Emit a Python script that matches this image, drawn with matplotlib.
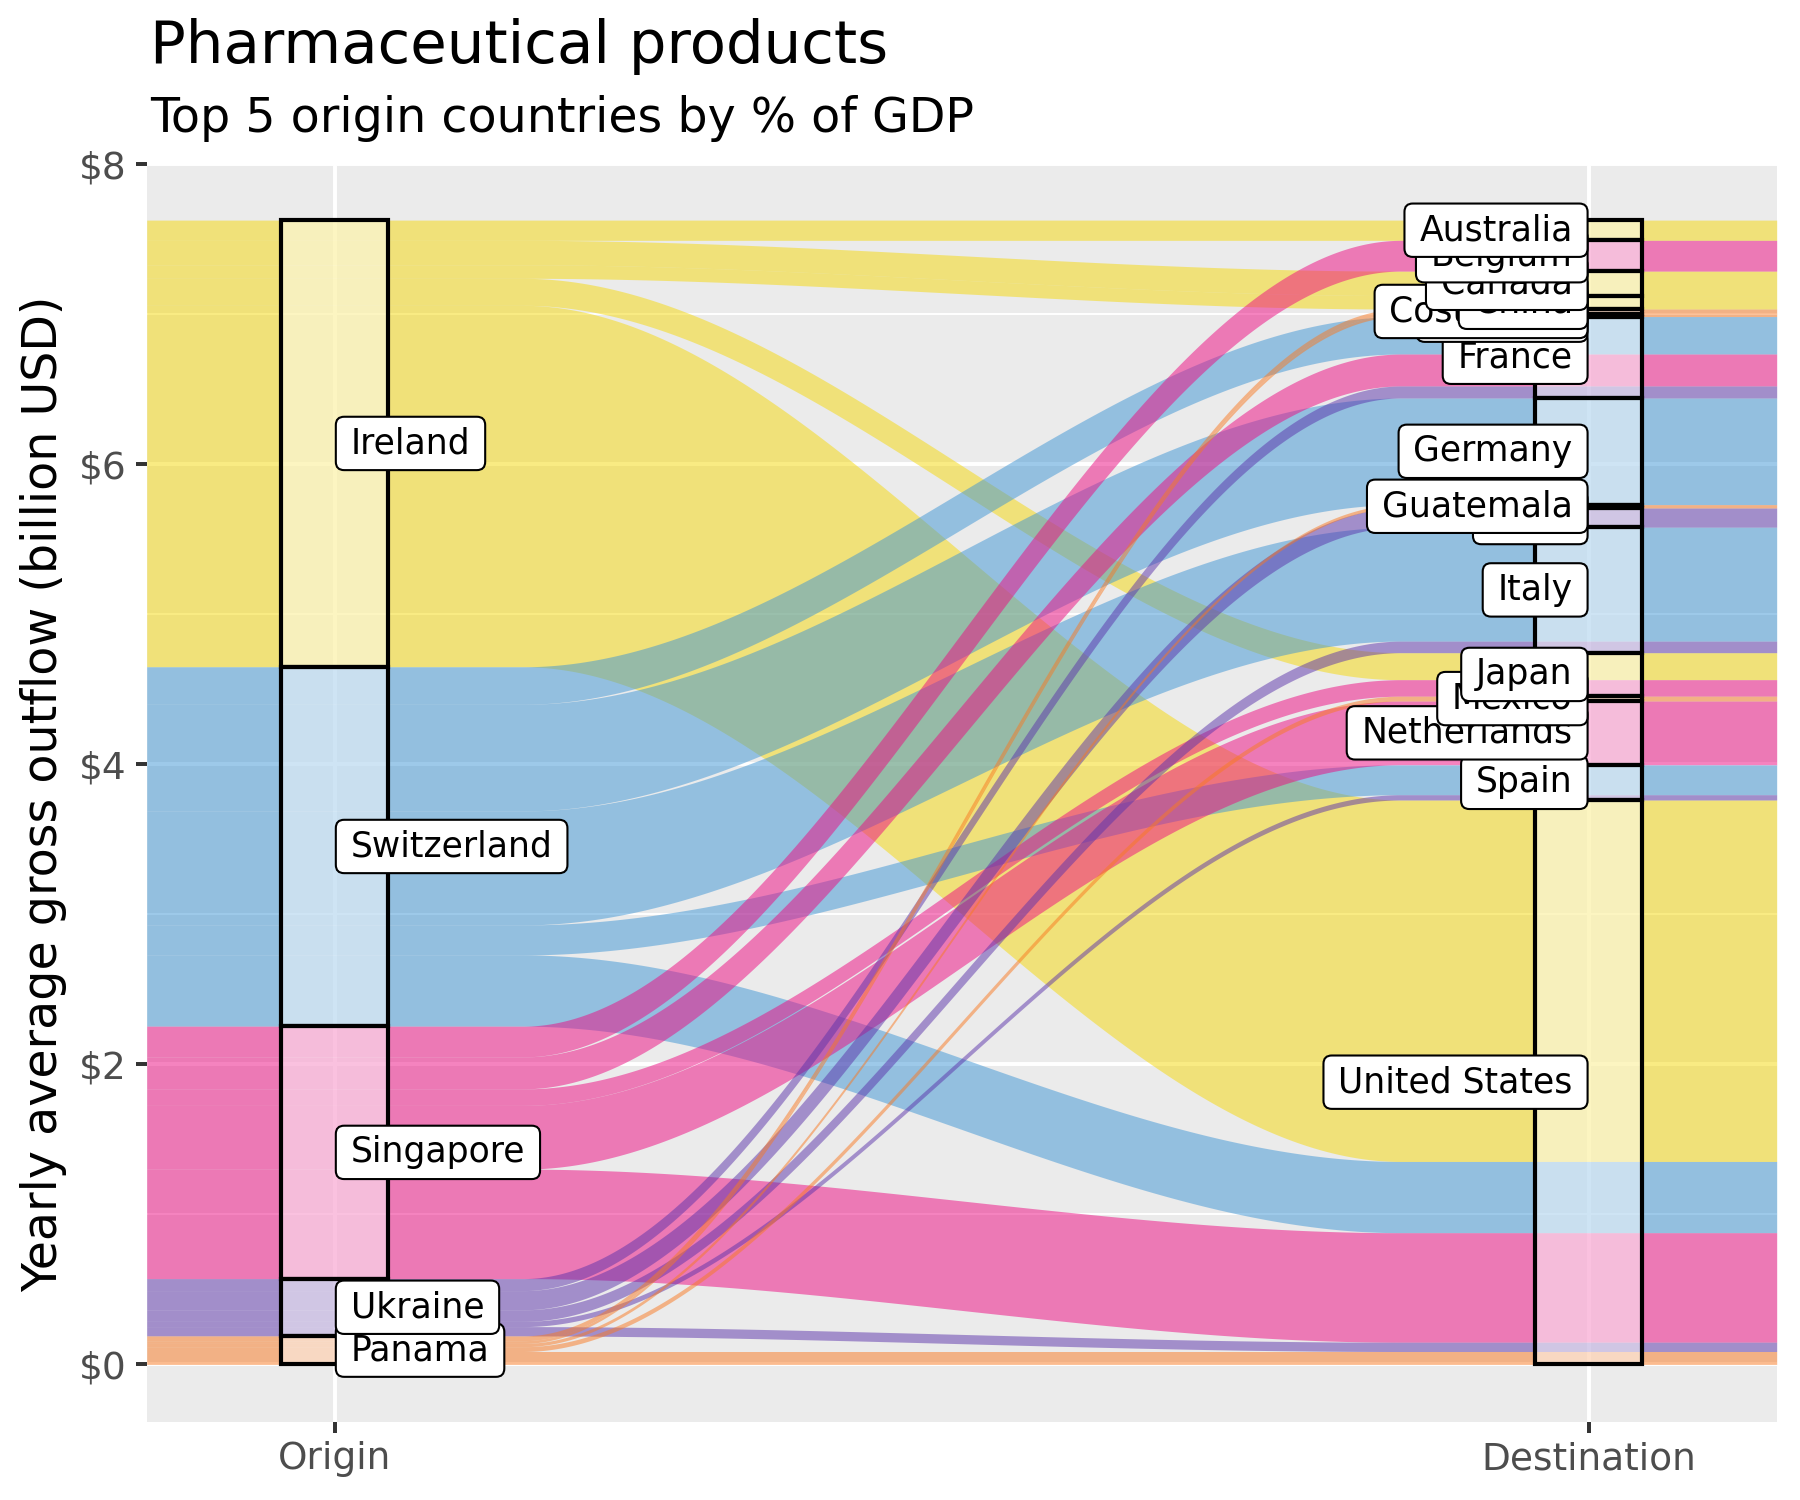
import numpy as np
import matplotlib
matplotlib.use("Agg")
import matplotlib.pyplot as plt
from matplotlib.patches import Rectangle, BoxStyle

plt.rcParams['font.family'] = ['DejaVu Sans']

# ---------------- data ----------------
origins = ["Ireland", "Switzerland", "Singapore", "Ukraine", "Panama"]
destinations = ["Australia", "Belgium", "Canada", "China", "Costa Rica", "Ecuador",
                "France", "Germany", "Guatemala", "India", "Italy", "Japan",
                "Mexico", "Netherlands", "Spain", "United States"]

flow_origin = ["Ireland"] * 5 + ["Switzerland"] * 5 + ["Singapore"] * 5 + ["Ukraine"] * 5 + ["Panama"] * 5
flow_dest = ["Australia", "Canada", "China", "Japan", "United States",
             "France", "Germany", "Italy", "Spain", "United States",
             "Belgium", "France", "Japan", "Netherlands", "United States",
             "France", "India", "Italy", "Spain", "United States",
             "Costa Rica", "Ecuador", "Guatemala", "Mexico", "United States"]
flow_value = [0.135, 0.163, 0.090, 0.180, 2.410,
              0.250, 0.711, 0.760, 0.200, 0.475,
              0.205, 0.213, 0.110, 0.425, 0.730,
              0.080, 0.128, 0.077, 0.035, 0.062,
              0.032, 0.018, 0.022, 0.032, 0.086]

origin_colors = ["#F5D909", "#3D95D5", "#ED0981", "#5B33AB", "#F97921"]

title = "Pharmaceutical products"
subtitle = "Top 5 origin countries by % of GDP"
y_label = "Yearly average gross outflow (billion USD)"
x_labels = ["Origin", "Destination"]
y_ticks = [0, 2, 4, 6, 8]
y_tick_labels = ["$0", "$2", "$4", "$6", "$8"]

# ---------------- layout ----------------
fig = plt.figure(figsize=(12, 10), dpi=150)
ax = fig.add_axes([146.7 / 1800, 1 - 1421.7 / 1500, 1630 / 1800, 1258 / 1500])
ax.set_facecolor("#EBEBEB")
for s in ax.spines.values():
    s.set_visible(False)

flows = list(zip(flow_origin, flow_dest, flow_value))
o_tot = {o: sum(v for oo, d, v in flows if oo == o) for o in origins}
d_tot = {d: sum(v for o, dd, v in flows if dd == d) for d in destinations}


def stack(order, tot):
    tops = {}
    y = sum(tot.values())
    for k in order:
        tops[k] = y
        y -= tot[k]
    return tops


o_top = stack(origins, o_tot)
d_top = stack(destinations, d_tot)

left = {}
cur = dict(o_top)
for o in origins:
    for d in destinations:
        for oo, dd, v in flows:
            if oo == o and dd == d:
                left[(o, d)] = (cur[o] - v, cur[o])
                cur[o] -= v
right = {}
cur = dict(d_top)
for d in destinations:
    for o in origins:
        for oo, dd, v in flows:
            if oo == o and dd == d:
                right[(o, d)] = (cur[d] - v, cur[d])
                cur[d] -= v

x = np.linspace(0.85, 2.15, 800)
t = np.clip((x - 1.15) / 0.70, 0, 1)
s = t * t * (3 - 2 * t)

for oi, o in enumerate(origins):
    for oo, d, v in flows:
        if oo != o:
            continue
        l0, l1 = left[(o, d)]
        r0, r1 = right[(o, d)]
        lo = l0 + (r0 - l0) * s
        hi = l1 + (r1 - l1) * s
        ax.fill_between(x, lo, hi, color=origin_colors[oi], alpha=0.5, lw=0, zorder=2)

hw = 0.0425
for o in origins:
    ax.add_patch(Rectangle((1 - hw, o_top[o] - o_tot[o]), 2 * hw, o_tot[o],
                           facecolor=(1, 1, 1, 0.5), edgecolor="black", lw=2.0, zorder=3))
for d in destinations:
    ax.add_patch(Rectangle((2 - hw, d_top[d] - d_tot[d]), 2 * hw, d_tot[d],
                           facecolor=(1, 1, 1, 0.5), edgecolor="black", lw=2.0, zorder=3))

fs = 16.6
PX, PY = 0.43, 0.28
_round = BoxStyle.Round(pad=0, rounding_size=0.24)


def label_box(x0, y0, width, height, mutation_size):
    px = PX * mutation_size
    py = PY * mutation_size
    return _round(x0 - px, y0 - py, width + 2 * px, height + 2 * py, mutation_size)


bbox = dict(boxstyle=label_box, fc="white", ec="black", lw=1.0)
off = PX * fs + 0.5
z = 5
for o in reversed(origins):
    yc = o_top[o] - o_tot[o] / 2
    ax.annotate(o, xy=(1, yc), xytext=(off, 0), textcoords="offset points",
                ha="left", va="center", fontsize=fs, bbox=bbox, zorder=z)
    z += 0.01
for d in reversed(destinations):
    yc = d_top[d] - d_tot[d] / 2
    ax.annotate(d, xy=(2, yc), xytext=(-off, 0), textcoords="offset points",
                ha="right", va="center", fontsize=fs, bbox=bbox, zorder=z)
    z += 0.01

ax.set_xlim(0.85, 2.15)
ax.set_ylim(-0.382, 8.005)
ax.set_xticks([1, 2])
ax.set_xticklabels(x_labels)
ax.set_yticks(y_ticks)
ax.set_yticklabels(y_tick_labels)
ax.set_yticks([1, 3, 5, 7], minor=True)
ax.tick_params(axis="both", which="major", length=5.5, width=1.9, color="#333333",
               labelcolor="#4D4D4D", labelsize=18, pad=4)
ax.tick_params(which="minor", length=0)
ax.grid(which="major", color="white", lw=1.9, zorder=0)
ax.grid(which="minor", axis="y", color="white", lw=0.95, zorder=0)
ax.set_axisbelow(True)

fig.text(150 / 1800, 1 - 63 / 1500, title, fontsize=28.5, ha="left", va="baseline")
fig.text(150 / 1800, 1 - 132 / 1500, subtitle, fontsize=22.8, ha="left", va="baseline")
fig.text(44 / 1800, 1 - 794 / 1500, y_label, fontsize=22.8, rotation=90, ha="center", va="center")

fig.savefig("out.png", dpi=150)
